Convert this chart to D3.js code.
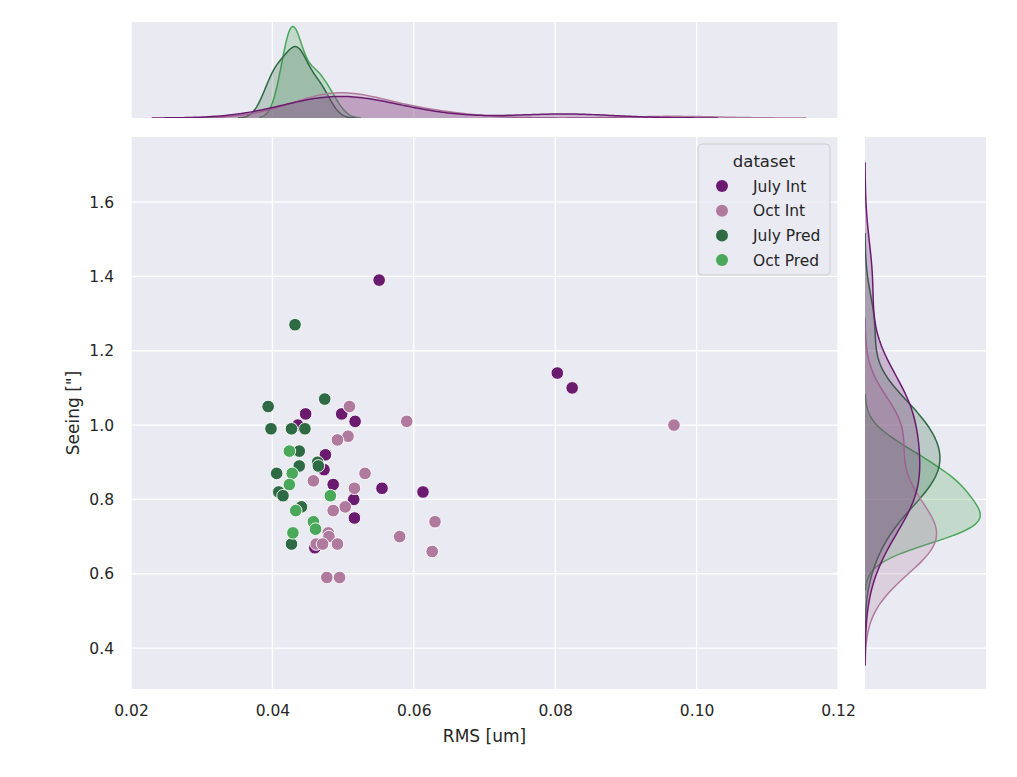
<!doctype html>
<html>
<head>
<meta charset="utf-8"/>
<script src="https://cdnjs.cloudflare.com/ajax/libs/d3/7.8.5/d3.min.js"></script>
<style>
  body { margin: 0; background: #fff; }
  text { font-family: "DejaVu Sans", sans-serif; fill: #262626; }
  .grid line { stroke: #fff; stroke-width: 1.3px; }
  .tick text { font-size: 15.5px; }
</style>
</head>
<body>
<svg width="1017" height="777"></svg>
<script>
// dataset order as it appears in the legend
var datasets = ["July Int", "Oct Int", "July Pred", "Oct Pred"];
var colors = ["#6a1b6f", "#b07a9e", "#2e6a44", "#4aa85a"];

// RMS [um] and Seeing ["] per dataset
var julyIntRms    = [0.0551, 0.0803, 0.0824, 0.0447, 0.0498, 0.0517, 0.0436, 0.0475, 0.0473, 0.0486, 0.0555, 0.0613, 0.0515, 0.0516, 0.0460];
var julyIntSeeing = [1.39, 1.14, 1.10, 1.03, 1.03, 1.01, 1.00, 0.92, 0.88, 0.84, 0.83, 0.82, 0.80, 0.75, 0.67];

var octIntRms    = [0.0968, 0.0509, 0.0590, 0.0507, 0.0492, 0.0531, 0.0458, 0.0516, 0.0503, 0.0486, 0.0630, 0.0580, 0.0479, 0.0480, 0.0462, 0.0471, 0.0492, 0.0626, 0.0477, 0.0495];
var octIntSeeing = [1.00, 1.05, 1.01, 0.97, 0.96, 0.87, 0.85, 0.83, 0.78, 0.77, 0.74, 0.70, 0.71, 0.70, 0.68, 0.68, 0.68, 0.66, 0.59, 0.59];

var julyPredRms    = [0.0432, 0.0474, 0.0394, 0.0398, 0.0427, 0.0446, 0.0438, 0.0464, 0.0465, 0.0438, 0.0406, 0.0409, 0.0415, 0.0441, 0.0427];
var julyPredSeeing = [1.27, 1.07, 1.05, 0.99, 0.99, 0.99, 0.93, 0.90, 0.89, 0.89, 0.87, 0.82, 0.81, 0.78, 0.68];

var octPredRms    = [0.0424, 0.0428, 0.0424, 0.0482, 0.0433, 0.0458, 0.0461, 0.0429];
var octPredSeeing = [0.93, 0.87, 0.84, 0.81, 0.77, 0.74, 0.72, 0.71];

var xTicks = [0.02, 0.04, 0.06, 0.08, 0.10, 0.12];
var yTicks = [0.4, 0.6, 0.8, 1.0, 1.2, 1.4, 1.6];

var rmsSets = [julyIntRms, octIntRms, julyPredRms, octPredRms];
var seeSets = [julyIntSeeing, octIntSeeing, julyPredSeeing, octPredSeeing];

var svg = d3.select("svg");
var bg = "#eaeaf2";

var main = {l: 131, r: 838, t: 137, b: 689};
var top_ = {t: 22, b: 118};
var side = {l: 865, r: 986};

var x = d3.scaleLinear().domain([0.02, 0.12]).range([main.l, main.r]);
var y = d3.scaleLinear().domain([0.29, 1.775]).range([main.b, main.t]);

// gaussian kde, scott bandwidth, each group normalised on its own
function kde(vals) {
  var n = vals.length;
  var bw = d3.deviation(vals) * Math.pow(n, -0.2);
  var lo = d3.min(vals) - 3 * bw, hi = d3.max(vals) + 3 * bw;
  var pts = [];
  for (var i = 0; i < 200; i++) {
    var g = lo + (hi - lo) * i / 199;
    var s = d3.sum(vals, v => Math.exp(-0.5 * Math.pow((g - v) / bw, 2)));
    pts.push([g, s / (n * bw * Math.sqrt(2 * Math.PI))]);
  }
  return pts;
}
var kdeX = rmsSets.map(kde);
var kdeY = seeSets.map(kde);

var defs = svg.append("defs");
function clip(id, x0, y0, w, h) {
  defs.append("clipPath").attr("id", id).append("rect")
    .attr("x", x0).attr("y", y0).attr("width", w).attr("height", h);
}
clip("cm", main.l, main.t, main.r - main.l, main.b - main.t);
clip("ct", main.l, top_.t, main.r - main.l, top_.b - top_.t);
clip("cs", side.l, main.t, side.r - side.l, main.b - main.t);

// backgrounds
svg.append("rect").attr("x", main.l).attr("y", main.t).attr("width", main.r - main.l).attr("height", main.b - main.t).attr("fill", bg);
svg.append("rect").attr("x", main.l).attr("y", top_.t).attr("width", main.r - main.l).attr("height", top_.b - top_.t).attr("fill", bg);
svg.append("rect").attr("x", side.l).attr("y", main.t).attr("width", side.r - side.l).attr("height", main.b - main.t).attr("fill", bg);

// grids
var g = svg.append("g").attr("class", "grid");
g.selectAll(".vx").data(xTicks).enter().append("line")
  .attr("x1", d => x(d)).attr("x2", d => x(d)).attr("y1", main.t).attr("y2", main.b);
g.selectAll(".hy").data(yTicks).enter().append("line")
  .attr("y1", d => y(d)).attr("y2", d => y(d)).attr("x1", main.l).attr("x2", main.r);
g.selectAll(".tx").data(xTicks).enter().append("line")
  .attr("x1", d => x(d)).attr("x2", d => x(d)).attr("y1", top_.t).attr("y2", top_.b);
g.selectAll(".sy").data(yTicks).enter().append("line")
  .attr("y1", d => y(d)).attr("y2", d => y(d)).attr("x1", side.l).attr("x2", side.r);

// marginal densities
var topMax = d3.max(kdeX, k => d3.max(k, p => p[1]));
var sideMax = d3.max(kdeY, k => d3.max(k, p => p[1]));
var yTop = d3.scaleLinear().domain([0, topMax * 1.05]).range([top_.b, top_.t]);
var xSide = d3.scaleLinear().domain([0, sideMax * 1.05]).range([side.l, side.r]);

var topG = svg.append("g").attr("clip-path", "url(#ct)");
var sideG = svg.append("g").attr("clip-path", "url(#cs)");
var order = [3, 2, 1, 0];
order.forEach(function(i) {
  var area = d3.area().x(p => x(p[0])).y0(yTop(0)).y1(p => yTop(p[1]));
  var line = d3.line().x(p => x(p[0])).y(p => yTop(p[1]));
  topG.append("path").attr("d", area(kdeX[i])).attr("fill", colors[i]).attr("fill-opacity", 0.25);
  topG.append("path").attr("d", line(kdeX[i])).attr("fill", "none").attr("stroke", colors[i]).attr("stroke-width", 1.5);

  var areaS = d3.area().y(p => y(p[0])).x0(xSide(0)).x1(p => xSide(p[1]));
  var lineS = d3.line().y(p => y(p[0])).x(p => xSide(p[1]));
  sideG.append("path").attr("d", areaS(kdeY[i])).attr("fill", colors[i]).attr("fill-opacity", 0.25);
  sideG.append("path").attr("d", lineS(kdeY[i])).attr("fill", "none").attr("stroke", colors[i]).attr("stroke-width", 1.5);
});

// scatter
var pts = [];
rmsSets.forEach(function(r, i) {
  r.forEach(function(v, j) { pts.push({x: v, y: seeSets[i][j], c: colors[i]}); });
});
svg.append("g").attr("clip-path", "url(#cm)")
  .selectAll("circle").data(pts).enter().append("circle")
  .attr("cx", d => x(d.x)).attr("cy", d => y(d.y)).attr("r", 6.3)
  .attr("fill", d => d.c).attr("stroke", "#fff").attr("stroke-width", 0.9);

// axes
var ax = svg.append("g").attr("transform", "translate(0," + main.b + ")")
  .call(d3.axisBottom(x).tickValues(xTicks).tickFormat(d3.format(".2f")).tickSize(0).tickPadding(16));
ax.select(".domain").remove();
var ay = svg.append("g").attr("transform", "translate(" + main.l + ",0)")
  .call(d3.axisLeft(y).tickValues(yTicks).tickFormat(d3.format(".1f")).tickSize(0).tickPadding(17));
ay.select(".domain").remove();
svg.selectAll(".tick text").attr("font-family", "DejaVu Sans").attr("fill", "#262626");

svg.append("text").attr("x", (main.l + main.r) / 2).attr("y", 742).attr("text-anchor", "middle")
  .attr("font-size", 17).text("RMS [um]");
svg.append("text").attr("transform", "translate(79," + ((main.t + main.b) / 2) + ") rotate(-90)")
  .attr("text-anchor", "middle").attr("font-size", 17).text("Seeing [\"]");

// legend
var lg = svg.append("g").attr("transform", "translate(698,144)");
lg.append("rect").attr("width", 132).attr("height", 131).attr("rx", 4)
  .attr("fill", bg).attr("fill-opacity", 0.8).attr("stroke", "#cccccc");
lg.append("text").attr("x", 66).attr("y", 23).attr("text-anchor", "middle").attr("font-size", 16.5).text("dataset");
datasets.forEach(function(d, i) {
  lg.append("circle").attr("cx", 24).attr("cy", 42 + i * 24.7).attr("r", 6).attr("fill", colors[i]);
  lg.append("text").attr("x", 55).attr("y", 47.5 + i * 24.7).attr("font-size", 15.5).text(d);
});
</script>
</body>
</html>
